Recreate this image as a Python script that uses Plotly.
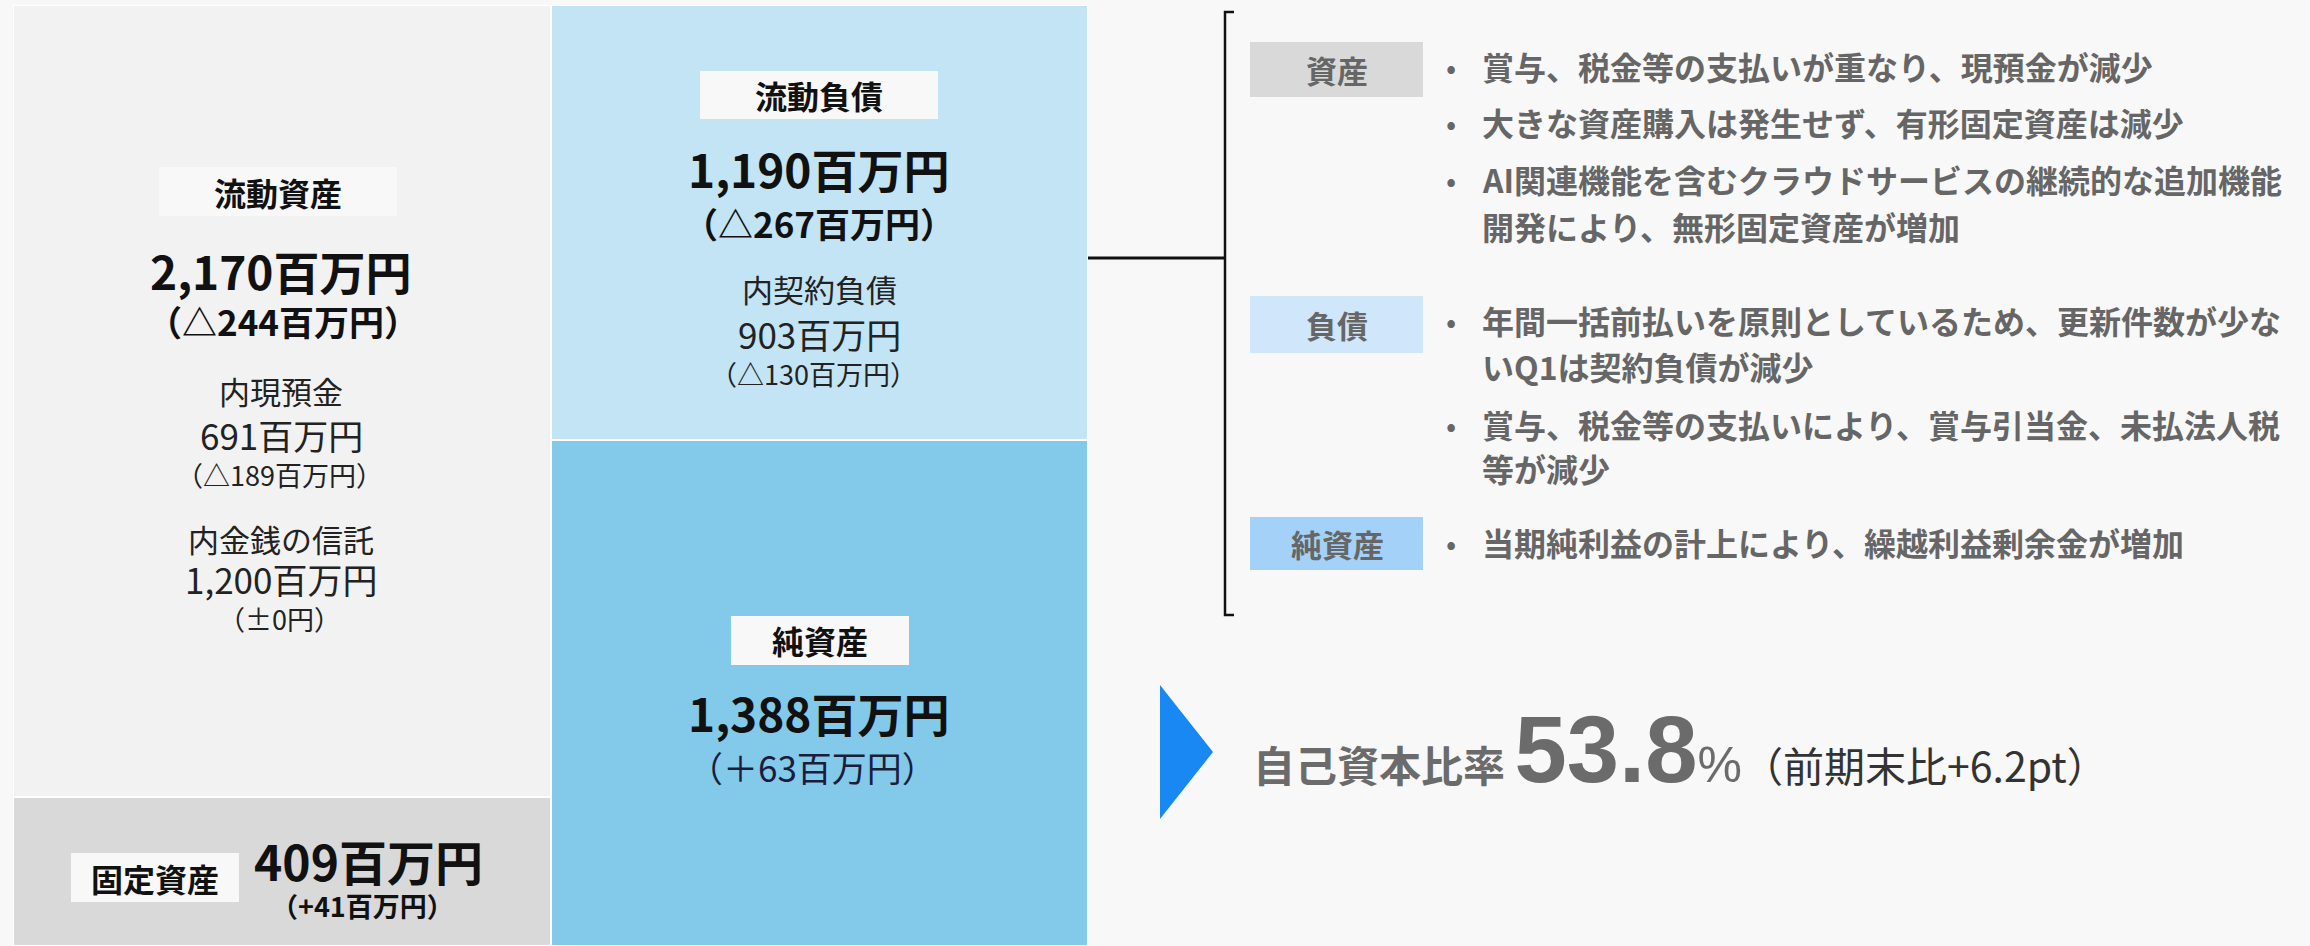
import plotly.graph_objects as go

W, H = 2310, 946
FONT = "Noto Sans CJK JP"

# balance sheet blocks (百万円)
columns = [0, 1]
bottom_names = ["固定資産", "純資産"]
bottom_values = [409, 1388]
bottom_changes = ["+41", "＋63"]
top_names = ["流動資産", "流動負債"]
top_values = [2170, 1190]
top_changes = ["△244", "△267"]

# breakdown inside the blocks
asset_items = ["内現預金", "内金銭の信託"]
asset_item_values = ["691", "1,200"]
asset_item_changes = ["（△189百万円）", "（±0円）"]
liab_items = ["内契約負債"]
liab_item_values = ["903"]
liab_item_changes = ["（△130百万円）"]

# commentary
comment_heads = ["資産", "負債", "純資産"]
asset_notes = [
    ["賞与、税金等の支払いが重なり、現預金が減少"],
    ["大きな資産購入は発生せず、有形固定資産は減少"],
    ["AI関連機能を含むクラウドサービスの継続的な追加機能", "開発により、無形固定資産が増加"],
]
liab_notes = [
    ["年間一括前払いを原則としているため、更新件数が少な", "いQ1は契約負債が減少"],
    ["賞与、税金等の支払いにより、賞与引当金、未払法人税", "等が減少"],
]
equity_notes = [
    ["当期純利益の計上により、繰越利益剰余金が増加"],
]
equity_ratio = 53.8
equity_ratio_change = "+6.2pt"


def px(x):
    return x / W


def py(y):
    return 1 - y / H


fig = go.Figure()
fig.add_trace(go.Bar(
    x=columns, y=bottom_values, width=1,
    marker=dict(color=["#d9d9d9", "#83c9ea"], line=dict(color="#ffffff", width=2.5)),
    hoverinfo="skip",
))
fig.add_trace(go.Bar(
    x=columns, y=top_values, width=1,
    marker=dict(color=["#f2f2f2", "#c2e4f4"], line=dict(color="#ffffff", width=2.5)),
    hoverinfo="skip",
))


def txt(x, y, s, size, color="#111111", bold=False, xanchor="center", family=FONT):
    fig.add_annotation(
        x=px(x), y=py(y), xref="paper", yref="paper",
        text=f"<b>{s}</b>" if bold else s, showarrow=False,
        font=dict(family=family, size=size, color=color),
        xanchor=xanchor, yanchor="middle",
    )


def box(x0, y0, x1, y1, color):
    fig.add_shape(type="rect", xref="paper", yref="paper",
                  x0=px(x0), x1=px(x1), y0=py(y1), y1=py(y0),
                  fillcolor=color, line=dict(width=0), layer="above")


# left column: current assets
box(159, 167, 397, 216, "#f8f8f8")
txt(278, 192, top_names[0], 32, bold=True)
txt(281, 270, f"{top_values[0]:,}百万円", 46, bold=True)
txt(283, 321, f"（{top_changes[0]}百万円）", 35, bold=True)
item_y = [(390, 434, 474), (538, 578, 618)]
for (ya, yb, yc), name, val, chg in zip(item_y, asset_items, asset_item_values, asset_item_changes):
    txt(281, ya, name, 31, color="#222222")
    txt(281, yb, f"{val}百万円", 35, color="#222222")
    txt(279, yc, chg, 27, color="#222222")

# left column: fixed assets
box(71, 853, 239, 902, "#f8f8f8")
txt(155, 878, bottom_names[0], 32, bold=True)
txt(368, 860, f"{bottom_values[0]}百万円", 48, bold=True)
txt(362, 905, f"（{bottom_changes[0]}百万円）", 27, bold=True)

# middle column: current liabilities
box(700, 71, 938, 119, "#f8f8f8")
txt(819, 95, top_names[1], 32, bold=True)
txt(819, 168, f"{top_values[1]:,}百万円", 46, bold=True)
txt(819, 222, f"（{top_changes[1]}百万円）", 35, bold=True)
for name, val, chg in zip(liab_items, liab_item_values, liab_item_changes):
    txt(819, 288, name, 31, color="#222222")
    txt(819, 333, f"{val}百万円", 35, color="#222222")
    txt(813, 373, chg, 27, color="#222222")

# middle column: net assets
box(731, 616, 909, 665, "#f8f8f8")
txt(820, 640, bottom_names[1], 32, bold=True)
txt(819, 712, f"{bottom_values[1]:,}百万円", 46, bold=True)
txt(812, 766, f"（{bottom_changes[1]}百万円）", 35, color="#1c1c3c")

# bracket
fig.add_shape(type="path", xref="paper", yref="paper",
              path=f"M {px(1234)},{py(12)} L {px(1225)},{py(12)} L {px(1225)},{py(615)} L {px(1234)},{py(615)}",
              line=dict(color="#111111", width=2.5))
fig.add_shape(type="line", xref="paper", yref="paper",
              x0=px(1088), x1=px(1225), y0=py(258), y1=py(258),
              line=dict(color="#111111", width=3))

# commentary blocks
head_boxes = [(42, 97, "#d9d9d9"), (296, 353, "#d0e7fb"), (517, 570, "#a3d1f7")]
line_y = [[[66], [122], [179, 226]], [[320, 366], [424, 468]], [[542]]]
for head, (y0, y1, col), notes, ys in zip(comment_heads, head_boxes,
                                          [asset_notes, liab_notes, equity_notes], line_y):
    box(1250, y0, 1423, y1, col)
    txt(1337, (y0 + y1) / 2, head, 31, color="#666666", bold=True)
    for note, nys in zip(notes, ys):
        txt(1451, nys[0], "•", 30, color="#666666")
        for line, yy in zip(note, nys):
            txt(1480, yy, line, 32, color="#666666", bold=True, xanchor="left")

# equity ratio
fig.add_shape(type="path", xref="paper", yref="paper",
              path=f"M {px(1160)},{py(685)} L {px(1213)},{py(752)} L {px(1160)},{py(819)} Z",
              fillcolor="#1a88f2", line=dict(width=0))
ratio_text = (
    "<b>自己資本比率 </b>"
    f"<span style='font-family:Liberation Sans;font-size:94px;font-weight:bold'>{equity_ratio}</span>"
    "<span style='font-family:Liberation Sans;font-size:50px'>%</span>"
    f"<span style='font-size:41px;fill:#333333'>（前期末比{equity_ratio_change}）</span>"
)
fig.add_annotation(x=px(1251), y=py(804), xref="paper", yref="paper", text=ratio_text,
                   showarrow=False, xanchor="left", yanchor="bottom",
                   font=dict(family=FONT, size=42, color="#6b6b6b"))

fig.update_layout(
    width=W, height=H,
    margin=dict(l=0, r=0, t=0, b=0),
    paper_bgcolor="#f8f8f8", plot_bgcolor="rgba(0,0,0,0)",
    barmode="stack", bargap=0, showlegend=False, hovermode=False,
    xaxis=dict(domain=[px(13), px(1088)], range=[-0.5, 1.5], visible=False, fixedrange=True),
    yaxis=dict(domain=[0, py(5)], range=[0, 2579], visible=False, fixedrange=True),
)

fig.write_html("out.html", config={"displayModeBar": False},
               post_script="document.body.style.margin='0';")
